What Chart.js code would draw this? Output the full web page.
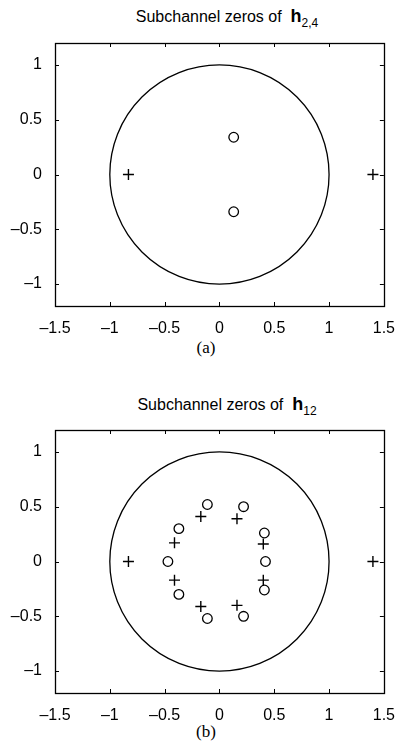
<!DOCTYPE html>
<html>
<head>
<meta charset="utf-8">
<script src="https://cdn.jsdelivr.net/npm/chart.js@4/dist/chart.umd.min.js"></script>
<style>
  html, body { margin:0; padding:0; background:#fff; }
  body { width:400px; height:754px; position:relative; overflow:hidden; }
  .title { position:absolute; left:0; width:454px; text-align:center; line-height:20px;
           font-family:"Liberation Sans", Arial, sans-serif; font-size:16px; color:#000; }
  .title b { font-size:18px; }
  .title sub { font-size:12px; vertical-align:-5px; }
  .cap { position:absolute; left:0; width:412px; text-align:center;
         font-family:"Liberation Serif", "Times New Roman", serif; font-size:17px; color:#000; }
  .box { position:absolute; left:0; width:400px; height:335px; }
</style>
</head>
<body>
<div class="title" style="top:6px">Subchannel zeros of&nbsp; <b>h</b><sub>2,4</sub></div>
<div class="box" style="top:0"><canvas id="c1"></canvas></div>
<div class="cap" style="top:338px">(a)</div>

<div class="title" style="top:394px">Subchannel zeros of&nbsp; <b>h</b><sub>12</sub></div>
<div class="box" style="top:387px"><canvas id="c2"></canvas></div>
<div class="cap" style="top:722px">(b)</div>

<script>
// ─── data ──────────────────────────────────────────────────────────
const X_TICKS = [-1.5, -1, -0.5, 0, 0.5, 1, 1.5];
const Y_TICKS = [-1, -0.5, 0, 0.5, 1];
const X_RANGE = [-1.5, 1.5];
const Y_RANGE = [-1.2, 1.2];
const UNIT_CIRCLE = { cx: 0, cy: 0, r: 1 };

// (a) h_2,4
const A_ZEROS_X = [0.13, 0.13];
const A_ZEROS_Y = [0.34, -0.34];
const A_PLUS_X  = [-0.83, 1.40];
const A_PLUS_Y  = [0, 0];

// (b) h_12
const B_ZEROS_X = [-0.11, 0.22, -0.37, 0.41, -0.47, 0.42, -0.37, 0.41, -0.11, 0.22];
const B_ZEROS_Y = [ 0.52, 0.50,  0.30, 0.26,  0.00, 0.00, -0.30, -0.26, -0.52, -0.50];
const B_PLUS_X  = [-0.17, 0.16, -0.41, 0.40, -0.83, 1.40, -0.41, 0.40, -0.17, 0.16];
const B_PLUS_Y  = [ 0.41, 0.39,  0.17, 0.16,  0.00, 0.00, -0.17, -0.17, -0.41, -0.40];

const FONT = { family:'"Liberation Sans", Arial, sans-serif', size:16 };
const pts = (xs, ys) => xs.map((x, i) => ({ x, y: ys[i] }));
const fmt = v => String(v).replace('-', '\u2013');

// ─── box, inward ticks and unit circle ─────────────────────────────
const framePlugin = {
  id: 'frame',
  beforeDatasetsDraw(chart) {
    const { ctx, chartArea: a, scales: { x, y } } = chart;
    ctx.save();
    ctx.strokeStyle = '#000';
    ctx.lineWidth = 1.3;
    // unit circle
    const cx = x.getPixelForValue(UNIT_CIRCLE.cx), cy = y.getPixelForValue(UNIT_CIRCLE.cy);
    const rx = x.getPixelForValue(UNIT_CIRCLE.cx + UNIT_CIRCLE.r) - cx;
    const ry = cy - y.getPixelForValue(UNIT_CIRCLE.cy + UNIT_CIRCLE.r);
    ctx.beginPath();
    ctx.ellipse(cx, cy, rx, ry, 0, 0, Math.PI * 2);
    ctx.stroke();
    // frame
    ctx.lineWidth = 1.3;
    ctx.strokeRect(Math.round(a.left) + 0.5, Math.round(a.top) + 0.5,
                   Math.round(a.right - a.left), Math.round(a.bottom - a.top));
    // inward ticks
    const L = 4;
    ctx.lineWidth = 1;
    ctx.beginPath();
    X_TICKS.forEach(v => {
      const px = Math.round(x.getPixelForValue(v)) + 0.5;
      ctx.moveTo(px, a.bottom); ctx.lineTo(px, a.bottom - L);
      ctx.moveTo(px, a.top);    ctx.lineTo(px, a.top + L);
    });
    Y_TICKS.forEach(v => {
      const py = Math.round(y.getPixelForValue(v)) + 0.5;
      ctx.moveTo(a.left, py);  ctx.lineTo(a.left + L, py);
      ctx.moveTo(a.right, py); ctx.lineTo(a.right - L, py);
    });
    ctx.stroke();
    ctx.restore();
  }
};

function makeChart(id, zx, zy, px, py) {
  return new Chart(document.getElementById(id).getContext('2d'), {
    type: 'scatter',
    data: {
      datasets: [
        { data: pts(zx, zy), pointStyle: 'circle', pointRadius: 4.8, borderColor: '#000',
          backgroundColor: 'transparent', borderWidth: 1.3, pointHoverRadius: 4.8 },
        { data: pts(px, py), pointStyle: 'cross', pointRadius: 5.5, borderColor: '#000',
          backgroundColor: '#000', borderWidth: 1.4, pointHoverRadius: 5.5 },
      ]
    },
    options: {
      responsive: true, maintainAspectRatio: false, animation: false,
      events: [],
      layout: { padding: { top: 43, right: 13, left: 0, bottom: 0 } },
      plugins: { legend: { display: false }, tooltip: { enabled: false } },
      scales: {
        x: {
          type: 'linear', min: X_RANGE[0], max: X_RANGE[1],
          afterBuildTicks: s => { s.ticks = X_TICKS.map(v => ({ value: v })); },
          afterFit: s => { s.height = 29; },
          grid: { display: false }, border: { display: false },
          ticks: { color: '#000', font: FONT, padding: 5, maxRotation: 0, callback: fmt }
        },
        y: {
          type: 'linear', min: Y_RANGE[0], max: Y_RANGE[1],
          afterBuildTicks: s => { s.ticks = Y_TICKS.map(v => ({ value: v })); },
          afterFit: s => { s.width = 55; },
          grid: { display: false }, border: { display: false },
          ticks: { color: '#000', font: FONT, padding: 5, callback: fmt }
        }
      }
    },
    plugins: [framePlugin]
  });
}

makeChart('c1', A_ZEROS_X, A_ZEROS_Y, A_PLUS_X, A_PLUS_Y);
makeChart('c2', B_ZEROS_X, B_ZEROS_Y, B_PLUS_X, B_PLUS_Y);
</script>
</body>
</html>
